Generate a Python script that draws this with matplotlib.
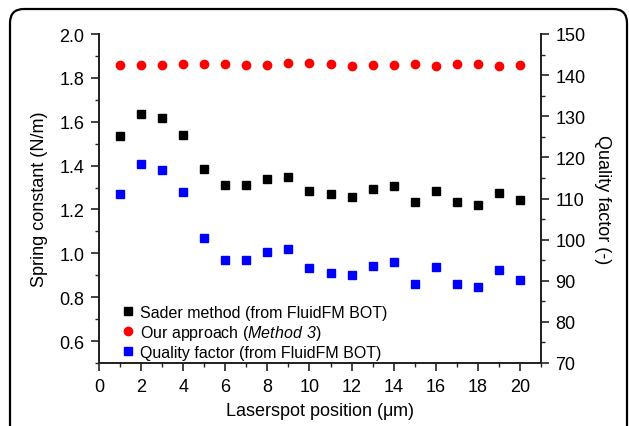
import matplotlib
matplotlib.use("Agg")
import matplotlib.pyplot as plt
from matplotlib.patches import PathPatch
from matplotlib.path import Path
from matplotlib.ticker import MultipleLocator

plt.rcParams['font.family'] = ['Liberation Sans', 'DejaVu Sans']
plt.rcParams['mathtext.fontset'] = 'custom'
plt.rcParams['mathtext.rm'] = 'Liberation Sans'
# bold slot used only to get an italic "Method 3" (digits included)
plt.rcParams['mathtext.bf'] = 'Liberation Sans:italic'

positions = list(range(1, 21))
sader = [1.533, 1.633, 1.616, 1.540, 1.384, 1.312, 1.311, 1.341, 1.347, 1.283,
         1.269, 1.259, 1.292, 1.305, 1.232, 1.286, 1.233, 1.219, 1.277, 1.241]
our_approach = [1.858, 1.858, 1.860, 1.861, 1.864, 1.864, 1.860, 1.858, 1.867, 1.867,
                1.863, 1.852, 1.858, 1.860, 1.864, 1.856, 1.863, 1.864, 1.853, 1.860]
quality = [111.0, 118.4, 117.0, 111.6, 100.3, 95.1, 95.1, 97.1, 97.8, 93.2,
           92.0, 91.3, 93.7, 94.6, 89.2, 93.3, 89.3, 88.4, 92.6, 90.1]

fig = plt.figure(figsize=(6.29, 4.27), dpi=100)
ax = fig.add_axes([99 / 629, 1 - 364 / 427, 442 / 629, 329 / 427])
ax2 = ax.twinx()

l1, = ax.plot(positions, sader, 's', color='black', markersize=5.6, linestyle='none',
              label='Sader method (from FluidFM BOT)')
l2, = ax.plot(positions, our_approach, 'o', color='#ff0000', markersize=6, linestyle='none',
              label='Our approach ($\\mathbf{Method\\ 3}$)')
l3, = ax2.plot(positions, quality, 's', color='#0000ff', markersize=5.6, linestyle='none',
               label='Quality factor (from FluidFM BOT)')

ax.set_xlim(0, 21)
ax.set_ylim(0.5, 2.0)
ax2.set_ylim(70, 150)

ax.xaxis.set_major_locator(MultipleLocator(2))
ax.xaxis.set_minor_locator(MultipleLocator(1))
ax.yaxis.set_minor_locator(MultipleLocator(0.1))
ax.set_yticks([0.6, 0.8, 1.0, 1.2, 1.4, 1.6, 1.8, 2.0])
ax.set_yticklabels(['0.6', '0.8', '1.0', '1.2', '1.4', '1.6', '1.8', '2.0'])
ax2.yaxis.set_major_locator(MultipleLocator(10))
ax2.yaxis.set_minor_locator(MultipleLocator(5))

for a in (ax, ax2):
    a.spines['top'].set_visible(False)
    for s in a.spines.values():
        s.set_linewidth(1.3)
        s.set_color('#222222')
    a.tick_params(which='major', direction='out', length=5.5, width=1.2, pad=5,
                  labelsize=13, colors='#222222')
    a.tick_params(which='minor', direction='out', length=3, width=1.0, colors='#222222')
    a.tick_params(labelcolor='black')

ax.set_xlabel('Laserspot position ($\\mathregular{\\mu}$m)', fontsize=13, labelpad=4)
ax.set_ylabel('Spring constant (N/m)', fontsize=13, labelpad=8)
ax2.set_ylabel('Quality factor (-)', fontsize=13, rotation=270, labelpad=18)

ax2.legend(handles=[l1, l2, l3], loc='lower left', bbox_to_anchor=(0.025, -0.025),
           frameon=False, fontsize=11.5, handletextpad=0.3, handlelength=0.9,
           labelspacing=0.2, borderaxespad=0.3)

# rounded frame around the figure, open at the bottom
x0, x1, top, r = 0.10, 6.27, 4.17, 0.14
verts = [(x0, -0.5), (x0, top - r), (x0, top), (x0 + r, top),
         (x1 - r, top), (x1, top), (x1, top - r), (x1, -0.5)]
codes = [Path.MOVETO, Path.LINETO, Path.CURVE3, Path.CURVE3,
         Path.LINETO, Path.CURVE3, Path.CURVE3, Path.LINETO]
frame = PathPatch(Path(verts, codes), transform=fig.dpi_scale_trans, fill=False,
                  edgecolor='black', linewidth=1.6, clip_on=False)
fig.patches.append(frame)

fig.savefig('out.png', dpi=100)
